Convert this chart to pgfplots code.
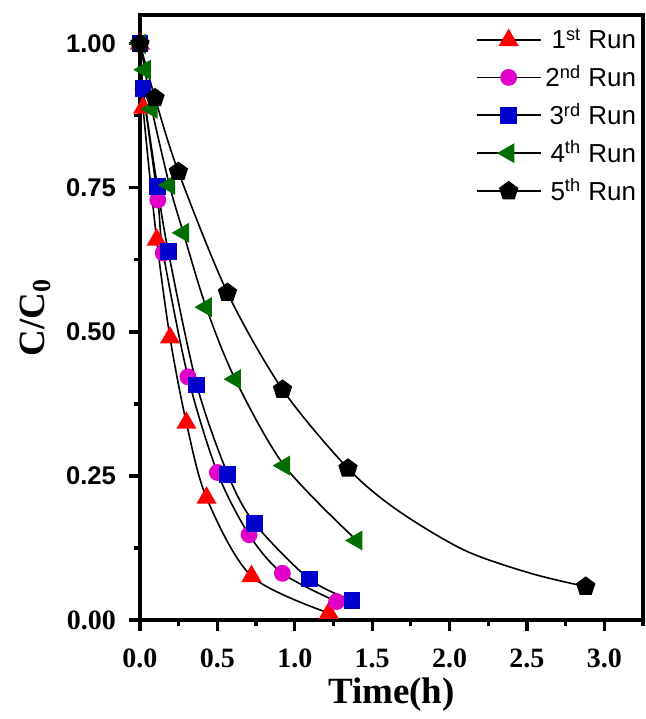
\documentclass[border=0pt]{standalone}
\usepackage{pgfplots}
\pgfplotsset{compat=1.18}
\usepackage{fontspec}
\setmainfont{Liberation Serif}
\newfontfamily\legfont{Liberation Sans}
\definecolor{cred}{RGB}{255,0,0}
\definecolor{cmag}{RGB}{225,0,200}
\definecolor{cblue}{RGB}{0,0,205}
\definecolor{cgreen}{RGB}{0,110,0}
\begin{document}
\begin{tikzpicture}
\begin{axis}[
  scale only axis,
  width=251.5pt, height=302.5pt,
  xmin=0, xmax=3.25, ymin=0, ymax=1.05,
  xtick={0,0.5,1,1.5,2,2.5,3},
  ytick={0,0.25,0.5,0.75,1},
  yticklabels={{\fontsize{14}{16}\selectfont\rmfamily\bfseries 0.00},0.25,0.50,0.75,1.00},
  minor xtick={0.25,0.75,1.25,1.75,2.25,2.75,3.25},
  minor ytick={0.125,0.375,0.625,0.875},
  xtick pos=left, ytick pos=left,
  tick align=outside,
  major tick length=5.5pt, minor tick length=3pt,
  every tick/.style={line width=1.6pt, black},
  axis line style={line width=2pt},
  /pgf/number format/assume math mode=true,
  xticklabel style={font=\fontsize{14}{16}\selectfont\bfseries, yshift=-5.5pt, /pgf/number format/.cd, fixed, fixed zerofill, precision=1},
  yticklabel style={font=\fontsize{12.8}{15}\selectfont\legfont\bfseries, xshift=-3pt},
  xlabel={Time(h)},
  ylabel={C/C$_{\mathbf{0}}$},
  xlabel style={font=\fontsize{18.5}{22}\selectfont\bfseries, yshift=2pt},
  ylabel style={font=\fontsize{18.5}{22}\selectfont\bfseries, yshift=1pt},
  clip=false,
  legend style={draw=none, fill=none, at={(rel axis cs:0.995,0.985)}, anchor=north east,
    font=\fontsize{13}{15}\selectfont\legfont, row sep=2.5pt, inner sep=0pt},
  legend cell align=right,
  legend image code/.code={\draw[mark repeat=2,mark phase=2] plot coordinates {(0pt,0pt)(16pt,0pt)(32pt,0pt)};},
]
\addplot[black, line width=0.8pt, smooth, mark=triangle*, mark size=5pt, mark options={fill=cred, draw=cred}]
 coordinates {(0,1) (0.02,0.889) (0.108,0.66) (0.194,0.49) (0.30,0.342) (0.43,0.212) (0.72,0.076) (1.22,0.012)};
\addlegendentry{1\textsuperscript{st} Run}
\addplot[black, line width=0.8pt, smooth, mark=*, mark size=3.8pt, mark options={fill=cmag, draw=cmag}]
 coordinates {(0,1) (0.02,0.922) (0.115,0.729) (0.15,0.637) (0.31,0.422) (0.50,0.256) (0.705,0.148) (0.92,0.081) (1.27,0.032)};
\addlegendentry{2\textsuperscript{nd} Run}
\addplot[black, line width=0.8pt, smooth, mark=square*, mark size=3.8pt, mark options={fill=cblue, draw=cblue}]
 coordinates {(0,1) (0.02,0.922) (0.112,0.753) (0.183,0.639) (0.367,0.408) (0.567,0.253) (0.74,0.168) (1.094,0.071) (1.37,0.034)};
\addlegendentry{3\textsuperscript{rd} Run}
\addplot[black, line width=0.8pt, smooth, mark=triangle*, mark size=5pt, mark options={fill=cgreen, draw=cgreen, rotate=90}]
 coordinates {(0,1) (0.032,0.955) (0.076,0.887) (0.19,0.755) (0.28,0.672) (0.427,0.543) (0.615,0.418) (0.932,0.268) (1.40,0.138)};
\addlegendentry{4\textsuperscript{th} Run}
\addplot[black, line width=0.8pt, smooth, mark=pentagon*, mark size=4.6pt, mark options={fill=black, draw=black},
  mark indices={1,2,3,4,5,6,10}, legend image post style={mark indices={2}}]
 coordinates {(0,1) (0.097,0.906) (0.248,0.778) (0.565,0.568) (0.921,0.40) (1.344,0.263) (1.661,0.191) (2.093,0.1215) (2.524,0.081) (2.88,0.058)};
\addlegendentry{5\textsuperscript{th} Run}
\end{axis}
\pgfresetboundingbox
\useasboundingbox ([xshift=-70pt,yshift=-49.5pt]current axis.south west) rectangle ([xshift=1.5pt,yshift=7.5pt]current axis.north east);
\end{tikzpicture}
\end{document}
